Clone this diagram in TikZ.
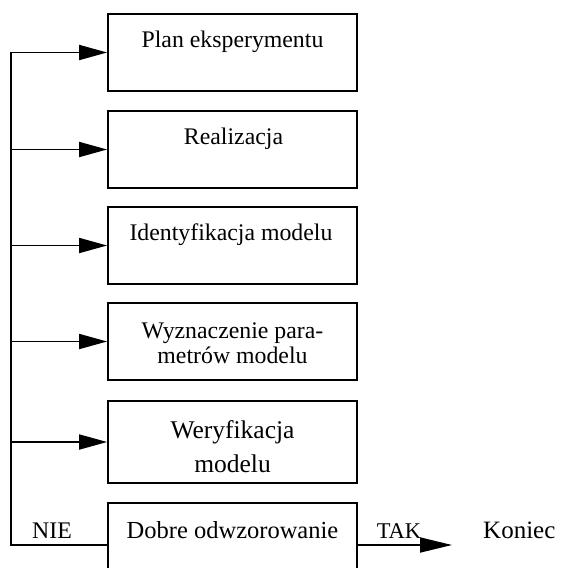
\documentclass[tikz,border=0pt]{standalone}
\usepackage{fontspec}
\setmainfont{Liberation Serif}
\usetikzlibrary{arrows.meta}
\begin{document}
\begin{tikzpicture}[x=1pt,y=-1pt,
  box/.style={draw,line width=1.8pt,minimum width=249pt,minimum height=77pt,inner sep=0pt},
  lbl/.style={font=\fontsize{23.8}{25}\selectfont,anchor=base,inner sep=0pt},
  conn/.style={line width=1.8pt},
  arr/.style={conn,-{Triangle[length=28pt,width=15pt]}},
  arrb/.style={conn,-{Triangle[length=32pt,width=15pt]}}]
\useasboundingbox (0,0) rectangle (561,568);
\clip (0,0) rectangle (561,568);
% boxes
\node[box] (b1) at (232.5,52.5) {};
\node[box] (b2) at (232.5,149.5) {};
\node[box] (b3) at (232.5,245.5) {};
\node[box] (b4) at (232.5,341.5) {};
\node[box,minimum height=82pt] (b5) at (232.5,442) {};
\node[box,minimum height=84pt] (b6) at (232.5,545) {};
% texts
\node[lbl] (t1) at (232.5,47) {Plan eksperymentu};
\node[lbl] (t2) at (233.5,144) {Realizacja};
\node[lbl] (t3) at (231,240) {Identyfikacja modelu};
\node[lbl] (t4a) at (232.5,338) {Wyznaczenie para-};
\node[lbl] (t4b) at (232.5,363) {metrów modelu};
\node[lbl,font=\fontsize{25.5}{27}\selectfont] (t5a) at (232.5,438) {Weryfikacja};
\node[lbl,font=\fontsize{25.5}{27}\selectfont] (t5b) at (232.5,472) {modelu};
\node[lbl,font=\fontsize{24.5}{26}\selectfont] (t6) at (232.5,538) {Dobre odwzorowanie};
\node[lbl] (nie) at (52,538) {NIE};
\node[lbl,font=\fontsize{22.5}{24}\selectfont] (tak) at (399,538) {TAK};
\node[lbl,font=\fontsize{25}{26}\selectfont,anchor=base west] (kon) at (483,538) {Koniec};
% connectors
\coordinate (lb) at (11,545);
\coordinate (lt) at (11,52.5);
\coordinate (endp) at (452,545);
\draw[arr] (b6.west) -- (lb) -- (lt) -- (b1.west);
\draw[arr] (b2.west -| lt) -- (b2.west);
\draw[arr] (b3.west -| lt) -- (b3.west);
\draw[arr] (b4.west -| lt) -- (b4.west);
\draw[arr] (b5.west -| lt) -- (b5.west);
\draw[arrb] (b6.east) -- (endp);
\end{tikzpicture}
\end{document}
